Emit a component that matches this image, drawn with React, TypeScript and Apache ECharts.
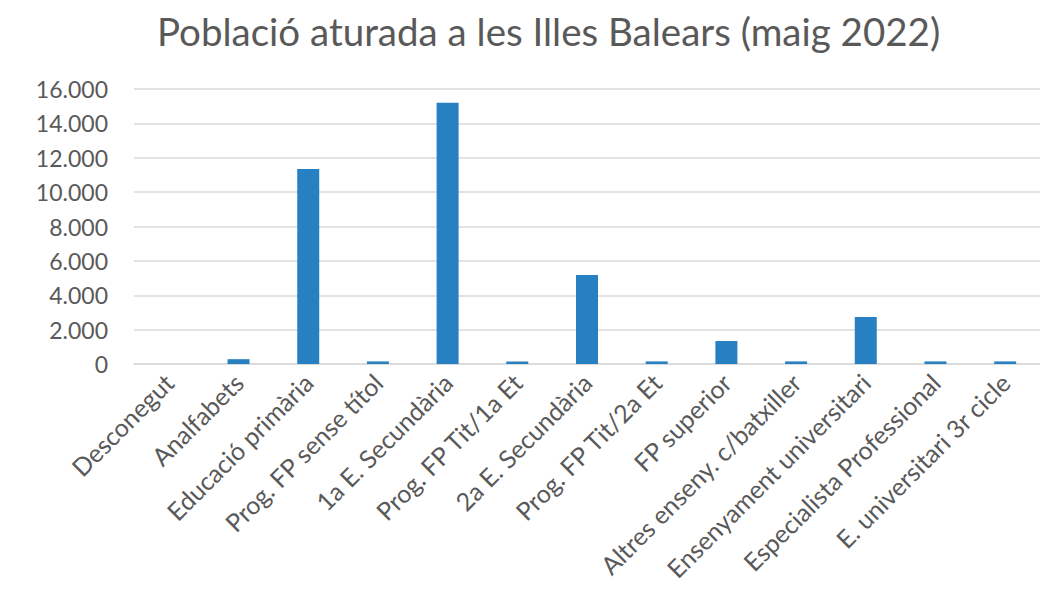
import React, { useEffect, useRef } from "react";
import * as echarts from "echarts";

const categories = [
  "Desconegut",
  "Analfabets",
  "Educació primària",
  "Prog. FP sense títol",
  "1a E. Secundària",
  "Prog. FP Tit/1a Et",
  "2a E. Secundària",
  "Prog. FP Tit/2a Et",
  "FP superior",
  "Altres enseny. c/batxiller",
  "Ensenyament universitari",
  "Especialista Professional",
  "E. universitari 3r cicle",
];

const values = [0, 280, 11350, 150, 15200, 150, 5180, 150, 1340, 150, 2735, 150, 150];

const titleText = "Població aturada a les Illes Balears (maig 2022)";

const FONT = "Lato";
const TEXT_COLOR = "#595959";

function fmt(v: number): string {
  return String(v).replace(/\B(?=(\d{3})+(?!\d))/g, ".");
}

export default function App() {
  const ref = useRef<HTMLDivElement>(null);
  useEffect(() => {
    if (!ref.current) return;
    const chart = echarts.init(ref.current, undefined, { renderer: "svg" });
    chart.setOption({
      animation: false,
      backgroundColor: "#ffffff",
      title: {
        text: titleText,
        left: 152,
        top: 6,
        textStyle: {
          fontFamily: FONT,
          fontSize: 38.5,
          fontWeight: "normal",
          color: TEXT_COLOR,
        },
      },
      grid: {
        left: 134,
        top: 89,
        width: 909,
        height: 275,
        containLabel: false,
      },
      xAxis: {
        type: "category",
        data: categories,
        axisLine: { show: true, lineStyle: { color: "#d9d9d9", width: 1.5 } },
        axisTick: { show: false },
        axisLabel: {
          interval: 0,
          rotate: 45,
          margin: 14,
          fontFamily: FONT,
          fontSize: 25,
          color: TEXT_COLOR,
        },
      },
      yAxis: {
        type: "value",
        min: 0,
        max: 16000,
        interval: 2000,
        axisLine: { show: false },
        axisTick: { show: false },
        splitLine: { lineStyle: { color: "#d9d9d9", width: 1.5 } },
        axisLabel: {
          margin: 26,
          fontFamily: FONT,
          fontSize: 23,
          color: TEXT_COLOR,
          formatter: (v: number) => fmt(v),
        },
      },
      series: [
        {
          type: "bar",
          data: values,
          barWidth: 22,
          itemStyle: { color: "#2680C2" },
        },
      ],
    });
    return () => chart.dispose();
  }, []);
  return (
    <div
      ref={ref}
      style={{ position: "fixed", left: 0, top: 0, width: 1040, height: 590, background: "#fff" }}
    />
  );
}
